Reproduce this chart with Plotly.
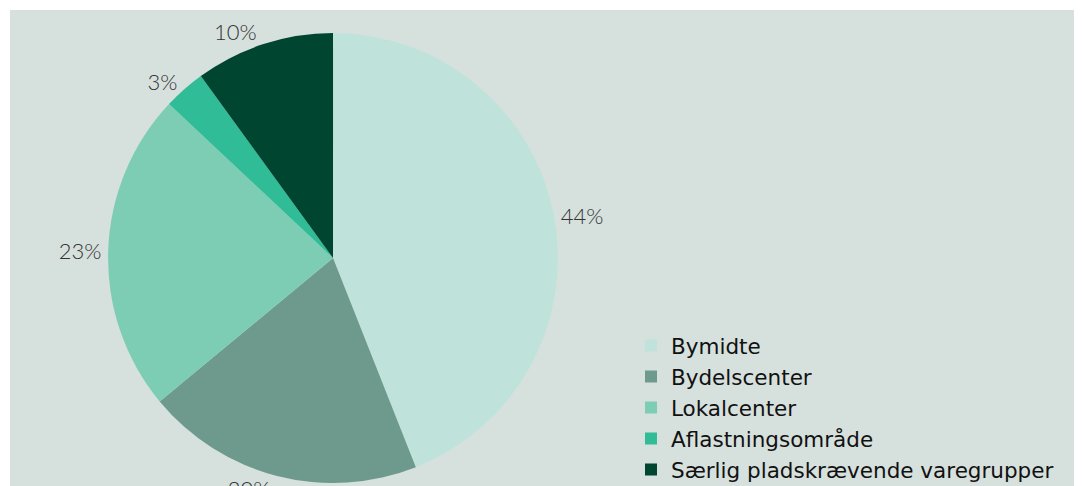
import plotly.graph_objects as go

categories = ["Bymidte", "Bydelscenter", "Lokalcenter", "Aflastningsområde",
              "Særlig pladskrævende varegrupper"]
values = [44, 20, 23, 3, 10]
colors = ["#bfe3da", "#6e9a8e", "#7dcdb5", "#2fbc97", "#004530"]
bg = "#d6e0dd"

fig = go.Figure()
fig.add_trace(go.Pie(
    labels=categories,
    values=values,
    sort=False,
    direction="clockwise",
    rotation=0,
    marker=dict(colors=colors, line=dict(width=0)),
    texttemplate="%{value}%",
    textposition="outside",
    outsidetextfont=dict(family="Lato", size=22, color="#333333", weight=300),
    domain=dict(x=[0.0908, 0.5074], y=[0.0227, 0.9525]),
    hoverinfo="label+percent",
    automargin=False,
))

fig.update_layout(
    width=1082, height=486,
    paper_bgcolor="white",
    plot_bgcolor=bg,
    margin=dict(l=2, t=2, r=0, b=0),
    shapes=[dict(type="rect", xref="paper", yref="paper", x0=0, x1=1, y0=0, y1=1,
                 fillcolor=bg, line=dict(width=0), layer="below")],
    legend=dict(x=0.575, y=0.008, xanchor="left", yanchor="bottom",
                font=dict(family="DejaVu Sans", size=21.5, color="#111"),
                bgcolor="rgba(0,0,0,0)", itemclick=False, tracegroupgap=0),
    showlegend=True,
)

fig.write_html("out.html")
